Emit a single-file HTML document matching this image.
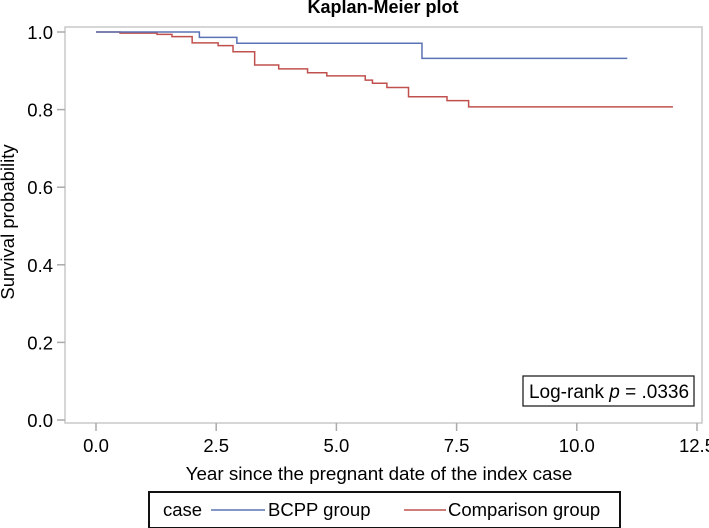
<!DOCTYPE html>
<html><head><meta charset="utf-8"><style>
body{margin:0;background:#fff;}
svg{display:block;font-family:"Liberation Sans",sans-serif;}
</style></head><body>
<svg id="chart" width="709" height="528">
<text x="383" y="13" text-anchor="middle" font-size="18" font-weight="bold">Kaplan-Meier plot</text>
<rect x="65" y="27" width="637" height="396" fill="none" stroke="#c8c8c8" stroke-width="1.5"/>
<g id="axes"></g>
<g id="series"></g>
<text transform="translate(14,222) rotate(-90)" text-anchor="middle" font-size="18.5">Survival probability</text>
<text x="379" y="480" text-anchor="middle" font-size="18.8">Year since the pregnant date of the index case</text>
<g>
<rect x="523" y="376" width="171" height="30" fill="#fff" stroke="#222" stroke-width="1.3"/>
<text x="609" y="398" text-anchor="middle" font-size="19">Log-rank <tspan font-style="italic">p</tspan> = .0336</text>
</g>
<g>
<rect x="149" y="492" width="471" height="36" fill="#fff" stroke="#111" stroke-width="2"/>
<text x="163" y="516" font-size="18.5">case</text>
<line x1="211" y1="510" x2="265" y2="510" stroke="#5b73b4" stroke-width="1.5"/>
<text x="268" y="516" font-size="18.5">BCPP group</text>
<line x1="404" y1="510" x2="446" y2="510" stroke="#c0504d" stroke-width="1.5"/>
<text x="448" y="516" font-size="18.5">Comparison group</text>
</g>
</svg>
<script>
const xTicks=[0,2.5,5,7.5,10,12.5];
const xTickLabels=["0.0","2.5","5.0","7.5","10.0","12.5"];
const yTicks=[0,0.2,0.4,0.6,0.8,1.0];
const yTickLabels=["0.0","0.2","0.4","0.6","0.8","1.0"];
const bcppTimes=[0,2.15,2.93,6.78,11.05];
const bcppSurv=[1.0,0.986,0.971,0.932,0.932];
const compTimes=[0,0.5,1.27,1.58,2.0,2.54,2.85,3.3,3.8,4.4,4.8,5.6,5.75,6.05,6.5,7.3,7.75,12.0];
const compSurv=[1.0,0.997,0.994,0.988,0.972,0.965,0.949,0.915,0.905,0.895,0.887,0.876,0.868,0.857,0.833,0.823,0.807,0.807];
const NS="http://www.w3.org/2000/svg";
const X=t=>96+t*48.08, Y=s=>420-s*388;
const axes=document.getElementById('axes'), series=document.getElementById('series');
function mk(tag,attrs,parent){const e=document.createElementNS(NS,tag);for(const k in attrs)e.setAttribute(k,attrs[k]);parent.appendChild(e);return e;}
xTicks.forEach((v,i)=>{
 const l=mk('line',{x1:X(v),x2:X(v),y1:423,y2:431,stroke:'#aaa','stroke-width':1.5},axes);
 
 
 const t=mk('text',{x:X(v),y:452,'text-anchor':'middle','font-size':18.5},axes);
 t.textContent=xTickLabels[i];
 
 
});
yTicks.forEach((v,i)=>{
 const l=mk('line',{x1:57,x2:65,y1:Y(v),y2:Y(v),stroke:'#aaa','stroke-width':1.5},axes);
 
 
 const t=mk('text',{x:53,y:Y(v)+7,'text-anchor':'end','font-size':18.5},axes);
 t.textContent=yTickLabels[i];
 
 
});
function stepPath(ts,ss){let d='M'+X(ts[0])+','+Y(ss[0]);for(let i=1;i<ts.length;i++){d+=' H'+X(ts[i])+' V'+Y(ss[i]);}return d;}
const pc=mk('path',{d:stepPath(compTimes,compSurv),fill:'none',stroke:'#c0504d','stroke-width':1.5},series);


const pb=mk('path',{d:stepPath(bcppTimes,bcppSurv),fill:'none',stroke:'#5b73b4','stroke-width':1.5},series);


</script>
</body></html>
